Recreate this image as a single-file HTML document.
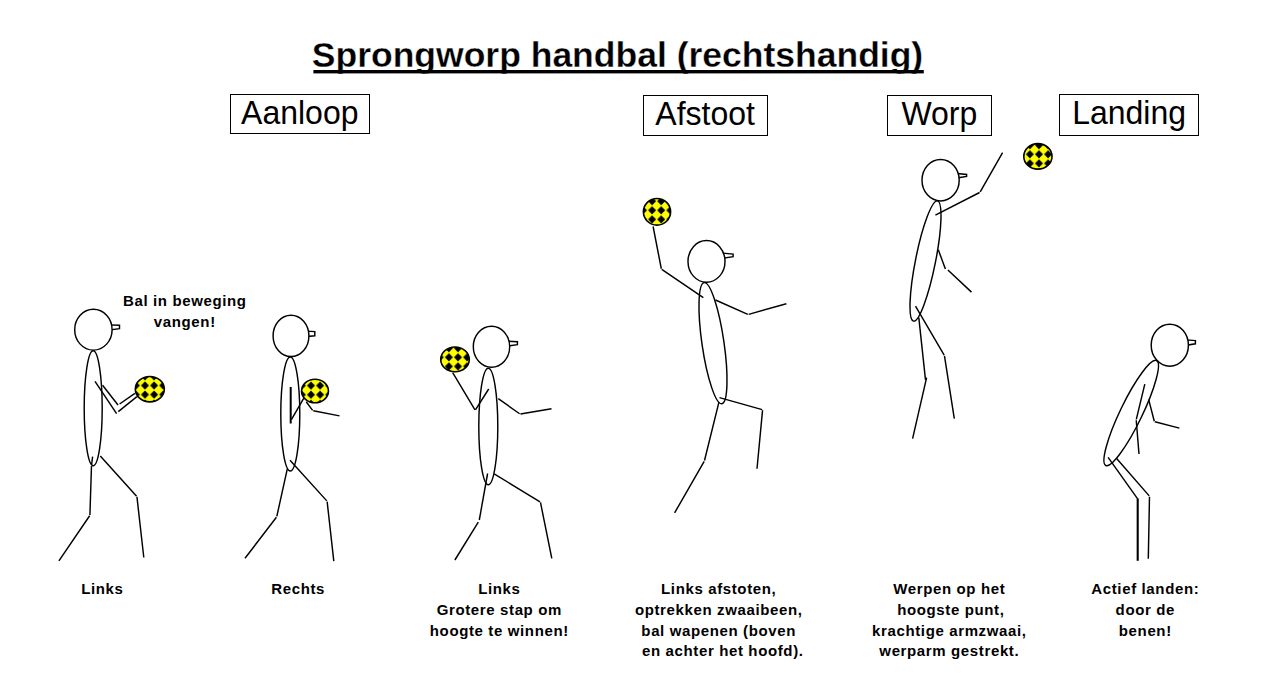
<!DOCTYPE html>
<html><head><meta charset="utf-8"><style>
html,body{margin:0;padding:0;background:#fff;width:1268px;height:676px;overflow:hidden}
svg{display:block}
text{font-family:"Liberation Sans",sans-serif;fill:#000}
</style></head><body>
<svg width="1268" height="676" viewBox="0 0 1268 676">
<defs>
<pattern id="pat0" patternUnits="userSpaceOnUse" x="140.45" y="380.95" width="9.1" height="9.1"><path d="M0.55 4.55 L4.55 0.55 L8.55 4.55 L4.55 8.55Z" fill="#000"/></pattern>
<pattern id="pat1" patternUnits="userSpaceOnUse" x="306.45" y="381.05" width="9.1" height="9.1"><path d="M0.55 4.55 L4.55 0.55 L8.55 4.55 L4.55 8.55Z" fill="#000"/></pattern>
<pattern id="pat2" patternUnits="userSpaceOnUse" x="444.35" y="352.75" width="9.1" height="9.1"><path d="M0.55 4.55 L4.55 0.55 L8.55 4.55 L4.55 8.55Z" fill="#000"/></pattern>
<pattern id="pat3" patternUnits="userSpaceOnUse" x="647.55" y="205.75" width="9.1" height="9.1"><path d="M0.55 4.55 L4.55 0.55 L8.55 4.55 L4.55 8.55Z" fill="#000"/></pattern>
<pattern id="pat4" patternUnits="userSpaceOnUse" x="1034.45" y="149.75" width="9.1" height="9.1"><path d="M0.55 4.55 L4.55 0.55 L8.55 4.55 L4.55 8.55Z" fill="#000"/></pattern>
</defs>
<g fill="none" stroke="#000" stroke-width="1.45" stroke-linecap="butt" stroke-linejoin="miter">
<ellipse cx="93.2" cy="408.3" rx="9.0" ry="57.5" fill="#fff"/>
<path d="M108.0 324.9 L119.5 325.2 L119.5 328.6 L108.0 330.2 Z" fill="#fff" stroke-linejoin="miter"/>
<ellipse cx="93.4" cy="329.7" rx="18.7" ry="20.4" fill="#fff"/>
<path d="M95.00 381.30 L116.60 413.60"/>
<path d="M118.30 411.60 L136.90 396.60"/>
<path d="M102.60 385.30 L118.00 405.00"/>
<path d="M119.60 404.00 L134.90 393.30"/>
<ellipse cx="149.80" cy="389.20" rx="14.50" ry="12.70" fill="#ffff00" stroke="none"/>
<ellipse cx="149.80" cy="389.20" rx="14.50" ry="12.70" fill="url(#pat0)" stroke="none"/>
<ellipse cx="149.80" cy="389.20" rx="14.50" ry="12.70" fill="none" stroke-width="1.6"/>
<path d="M92.60 456.60 L91.56 465.05 M91.49 465.95 L89.91 514.95 M89.65 515.77 L58.90 560.90"/>
<path d="M100.30 455.90 L136.60 496.17 M136.95 496.95 L143.80 557.50"/>
<ellipse cx="290.3" cy="414.0" rx="9.5" ry="57.0" fill="#fff"/>
<path d="M302.0 330.9 L314.8 331.6 L314.8 335.8 L302.0 337.0 Z" fill="#fff" stroke-linejoin="miter"/>
<ellipse cx="291.0" cy="335.9" rx="17.9" ry="20.6" fill="#fff"/>
<path d="M290.70 387.00 L290.70 423.50" stroke-width="2.0"/>
<path d="M291.40 419.60 L304.70 396.60"/>
<ellipse cx="315.00" cy="391.00" rx="13.45" ry="11.80" fill="#ffff00" stroke="none"/>
<ellipse cx="315.00" cy="391.00" rx="13.45" ry="11.80" fill="url(#pat1)" stroke="none"/>
<ellipse cx="315.00" cy="391.00" rx="13.45" ry="11.80" fill="none" stroke-width="1.6"/>
<path d="M306.20 401.80 L312.63 410.34 M313.34 410.79 L339.50 415.90"/>
<path d="M287.30 468.80 L276.80 516.46 M276.43 517.26 L245.00 558.30"/>
<path d="M290.00 460.20 L326.80 500.87 M327.15 501.65 L333.80 561.20"/>
<ellipse cx="488.3" cy="426.5" rx="9.5" ry="58.3" fill="#fff"/>
<path d="M505.0 341.0 L517.4 341.8 L517.4 344.6 L505.0 346.4 Z" fill="#fff" stroke-linejoin="miter"/>
<ellipse cx="491.5" cy="346.8" rx="18.2" ry="20.5" fill="#fff"/>
<path d="M452.70 372.70 L474.97 409.81 M475.44 409.82 L488.70 389.00"/>
<ellipse cx="455.00" cy="359.40" rx="14.25" ry="12.40" fill="#ffff00" stroke="none"/>
<ellipse cx="455.00" cy="359.40" rx="14.25" ry="12.40" fill="url(#pat2)" stroke="none"/>
<ellipse cx="455.00" cy="359.40" rx="14.25" ry="12.40" fill="none" stroke-width="1.6"/>
<path d="M498.30 398.70 L519.63 413.74 M520.44 413.93 L551.50 408.70"/>
<path d="M487.60 473.50 L479.30 520.00"/>
<path d="M478.30 522.10 L454.90 560.00"/>
<path d="M494.20 473.90 L540.02 501.77 M540.49 502.44 L551.80 558.40"/>
<ellipse cx="713.0" cy="343.2" rx="11.0" ry="61.2" fill="#fff" transform="rotate(-8.30 713.0 343.2)"/>
<path d="M720.0 252.9 L733.1 254.1 L733.1 256.7 L720.0 258.6 Z" fill="#fff" stroke-linejoin="miter"/>
<ellipse cx="706.5" cy="261.4" rx="18.5" ry="20.8" fill="#fff"/>
<ellipse cx="657.00" cy="211.80" rx="13.60" ry="13.30" fill="#ffff00" stroke="none"/>
<ellipse cx="657.00" cy="211.80" rx="13.60" ry="13.30" fill="url(#pat3)" stroke="none"/>
<ellipse cx="657.00" cy="211.80" rx="13.60" ry="13.30" fill="none" stroke-width="1.6"/>
<path d="M653.10 226.50 L661.31 268.76 M661.77 269.45 L703.30 297.70"/>
<path d="M715.50 300.00 L747.79 314.32 M748.63 314.38 L786.40 303.70"/>
<path d="M719.00 401.80 L704.51 460.46 M704.18 461.29 L674.60 512.90"/>
<path d="M719.50 397.60 L762.17 409.58 M762.56 410.15 L757.00 468.80"/>
<ellipse cx="925.5" cy="261.0" rx="10.0" ry="61.3" fill="#fff" transform="rotate(11.30 925.5 261.0)"/>
<path d="M955.0 173.2 L966.6 174.5 L966.6 176.5 L955.0 178.3 Z" fill="#fff" stroke-linejoin="miter"/>
<ellipse cx="940.6" cy="180.2" rx="18.6" ry="20.7" fill="#fff"/>
<ellipse cx="1037.90" cy="156.40" rx="14.10" ry="12.75" fill="#ffff00" stroke="none"/>
<ellipse cx="1037.90" cy="156.40" rx="14.10" ry="12.75" fill="url(#pat4)" stroke="none"/>
<ellipse cx="1037.90" cy="156.40" rx="14.10" ry="12.75" fill="none" stroke-width="1.6"/>
<path d="M935.40 215.20 L979.60 192.51 M980.22 191.91 L1002.60 152.60"/>
<path d="M938.30 249.80 L945.40 269.00"/>
<path d="M947.90 270.00 L971.50 292.10"/>
<path d="M918.80 317.70 L925.50 379.90"/>
<path d="M926.60 377.70 L912.60 438.70"/>
<path d="M915.50 306.20 L944.17 355.11 M944.47 355.94 L954.30 418.70"/>
<ellipse cx="1131.2" cy="413.0" rx="11.0" ry="58.3" fill="#fff" transform="rotate(25.80 1131.2 413.0)"/>
<path d="M1183.0 339.6 L1195.4 340.6 L1195.4 343.8 L1183.0 345.8 Z" fill="#fff" stroke-linejoin="miter"/>
<ellipse cx="1169.8" cy="345.2" rx="18.6" ry="21.0" fill="#fff"/>
<path d="M1144.80 384.20 L1136.31 419.36 M1136.24 420.25 L1139.00 454.00"/>
<path d="M1148.70 399.60 L1154.29 421.26 M1154.84 421.81 L1179.40 428.10"/>
<path d="M1108.10 457.30 L1138.20 499.60"/>
<path d="M1137.70 498.80 L1137.70 560.80" stroke-width="2.1"/>
<path d="M1116.40 458.30 L1149.20 495.86 M1149.49 496.65 L1148.30 558.80"/>
</g>
<g stroke="none">
<text x="617.5" y="66.6" font-size="35.5" font-weight="bold" text-anchor="middle" stroke="#fff" stroke-width="0.3" xml:space="preserve">Sprongworp handbal (rechtshandig)</text>
<rect x="313.4" y="70" width="610.4" height="3.4" fill="#000" stroke="none"/>
<rect x="230.5" y="94.5" width="139" height="39" fill="none" stroke="#000" stroke-width="1"/>
<text x="299.8" y="0" transform="translate(0 124.3) scale(1 1.04)" font-size="32" font-weight="normal" text-anchor="middle" xml:space="preserve">Aanloop</text>
<rect x="643.5" y="95.5" width="124" height="40" fill="none" stroke="#000" stroke-width="1"/>
<text x="705.1" y="0" transform="translate(0 125.1) scale(1 1.04)" font-size="32" font-weight="normal" text-anchor="middle" xml:space="preserve">Afstoot</text>
<rect x="887.5" y="95.5" width="104" height="40" fill="none" stroke="#000" stroke-width="1"/>
<text x="939.4" y="0" transform="translate(0 125.1) scale(1 1.04)" font-size="32" font-weight="normal" text-anchor="middle" xml:space="preserve">Worp</text>
<rect x="1059.5" y="94.5" width="139" height="41" fill="none" stroke="#000" stroke-width="1"/>
<text x="1129.1" y="0" transform="translate(0 124.2) scale(1 1.04)" font-size="32" font-weight="normal" text-anchor="middle" xml:space="preserve">Landing</text>
<text x="102.315" y="593.8" font-size="15" font-weight="bold" text-anchor="middle" letter-spacing="0.63" xml:space="preserve">Links</text>
<text x="298.215" y="593.8" font-size="15" font-weight="bold" text-anchor="middle" letter-spacing="0.63" xml:space="preserve">Rechts</text>
<text x="499.315" y="593.7" font-size="15" font-weight="bold" text-anchor="middle" letter-spacing="0.63" xml:space="preserve">Links</text>
<text x="499.315" y="614.8" font-size="15" font-weight="bold" text-anchor="middle" letter-spacing="0.63" xml:space="preserve">Grotere stap om</text>
<text x="499.315" y="635.9" font-size="15" font-weight="bold" text-anchor="middle" letter-spacing="0.63" xml:space="preserve">hoogte te winnen!</text>
<text x="718.715" y="593.7" font-size="15" font-weight="bold" text-anchor="middle" letter-spacing="0.63" xml:space="preserve">Links afstoten,</text>
<text x="718.715" y="614.6" font-size="15" font-weight="bold" text-anchor="middle" letter-spacing="0.63" xml:space="preserve">optrekken zwaaibeen,</text>
<text x="718.715" y="635.5" font-size="15" font-weight="bold" text-anchor="middle" letter-spacing="0.63" xml:space="preserve">bal wapenen (boven</text>
<text x="722.815" y="656.0" font-size="15" font-weight="bold" text-anchor="middle" letter-spacing="0.63" xml:space="preserve">en achter het hoofd).</text>
<text x="949.315" y="593.7" font-size="15" font-weight="bold" text-anchor="middle" letter-spacing="0.63" xml:space="preserve">Werpen op het</text>
<text x="949.315" y="635.5" font-size="15" font-weight="bold" text-anchor="middle" letter-spacing="0.63" xml:space="preserve">krachtige armzwaai,</text>
<text x="949.315" y="656.0" font-size="15" font-weight="bold" text-anchor="middle" letter-spacing="0.63" xml:space="preserve">werparm gestrekt.</text>
<text x="950.815" y="614.6" font-size="15" font-weight="bold" text-anchor="middle" letter-spacing="0.63" xml:space="preserve">hoogste punt,</text>
<text x="1145.315" y="593.7" font-size="15" font-weight="bold" text-anchor="middle" letter-spacing="0.63" xml:space="preserve">Actief landen:</text>
<text x="1145.315" y="614.8" font-size="15" font-weight="bold" text-anchor="middle" letter-spacing="0.63" xml:space="preserve">door de</text>
<text x="1145.315" y="635.9" font-size="15" font-weight="bold" text-anchor="middle" letter-spacing="0.63" xml:space="preserve">benen!</text>
<text x="184.815" y="305.7" font-size="15" font-weight="bold" text-anchor="middle" letter-spacing="0.63" xml:space="preserve">Bal in beweging</text>
<text x="184.815" y="327.0" font-size="15" font-weight="bold" text-anchor="middle" letter-spacing="0.63" xml:space="preserve">vangen!</text>
</g>
</svg>
</body></html>
